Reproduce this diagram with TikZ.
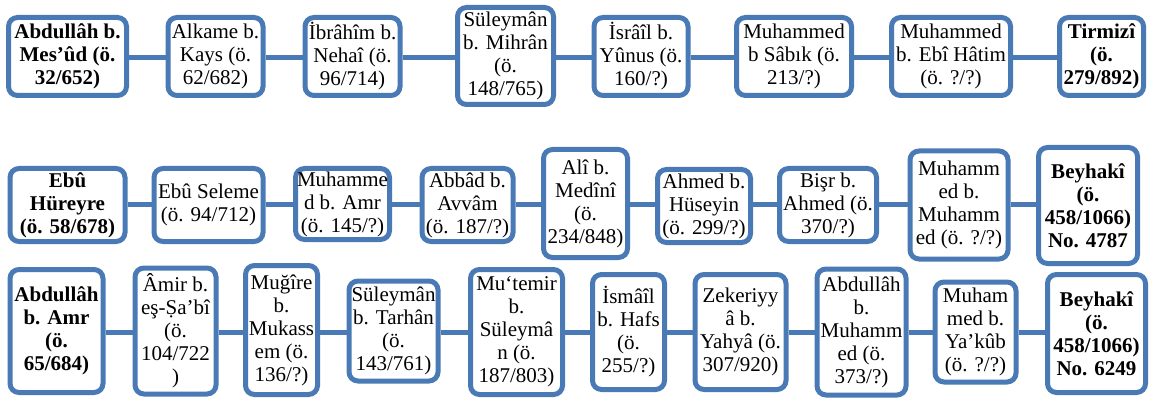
\documentclass[tikz,border=0pt]{standalone}
\usepackage{fontspec}
\setmainfont{Liberation Serif}
\definecolor{bx}{RGB}{74,122,182}
\begin{document}
\begin{tikzpicture}[x=1pt,y=-1pt,
  box/.style={draw=bx,line width=5pt,rounded corners=9pt,fill=white,inner sep=0pt,align=center,
    font=\fontsize{21}{23}\selectfont},
  bbox/.style={box,font=\fontsize{21}{23}\selectfont\bfseries},
  conn/.style={draw=bx,line width=5pt}]
\useasboundingbox (0,0) rectangle (1152,401);
% row 1
\node[bbox,minimum width=118,minimum height=78] (a1) at (67.5,56.5) {Abdullâh b.\\Mes’ûd (ö.\\32/652)};
\node[box,minimum width=95,minimum height=78] (a2) at (215.5,56.5) {Alkame b.\\Kays (ö.\\62/682)};
\node[box,minimum width=95,minimum height=78] (a3) at (352.5,56.5) {İbrâhîm b.\\Nehaî (ö.\\96/714)};
\node[box,minimum width=96,minimum height=97] (a4) at (505.5,56) {Süleymân\\b. Mihrân\\(ö.\\148/765)};
\node[box,minimum width=94,minimum height=78] (a5) at (641,56.5) {İsrâîl b.\\Yûnus (ö.\\160/?)};
\node[box,minimum width=115,minimum height=78] (a6) at (794,56.5) {Muhammed\\b Sâbık (ö.\\213/?)};
\node[box,minimum width=119,minimum height=78] (a7) at (951,56.5) {Muhammed\\b. Ebî Hâtim\\(ö. ?/?)};
\node[bbox,minimum width=84,minimum height=78] (a8) at (1101.5,56.5) {Tirmizî\\(ö.\\279/892)};
% row 2
\node[bbox,minimum width=115,minimum height=73] (b1) at (67.5,205) {Ebû\\Hüreyre\\(ö. 58/678)};
\node[box,minimum width=109,minimum height=73] (b2) at (208.5,205) {Ebû Seleme\\(ö. 94/712)};
\node[box,minimum width=94,minimum height=71] (b3) at (342.5,204) {Muhamme\\d b. Amr\\(ö. 145/?)};
\node[box,minimum width=91,minimum height=73] (b4) at (467.5,205) {Abbâd b.\\Avvâm\\(ö. 187/?)};
\node[box,minimum width=84,minimum height=108] (b5) at (585.5,203.5) {Alî b.\\Medînî\\(ö.\\234/848)};
\node[box,minimum width=93,minimum height=73] (b6) at (704,206) {Ahmed b.\\Hüseyin\\(ö. 299/?)};
\node[box,minimum width=97,minimum height=73] (b7) at (828,205) {Bişr b.\\Ahmed (ö.\\370/?)};
\node[box,minimum width=98,minimum height=108] (b8) at (959,205) {Muhamm\\ed b.\\Muhamm\\ed (ö. ?/?)};
\node[bbox,minimum width=99,minimum height=116] (b9) at (1088,205.5) {Beyhakî\\(ö.\\458/1066)\\No. 4787};
% row 3
\node[bbox,minimum width=93,minimum height=123] (c1) at (56.5,331) {Abdullâh\\b. Amr\\(ö.\\65/684)};
\node[box,minimum width=81,minimum height=126] (c2) at (175.5,331) {Âmir b.\\eş-Ṣa’bî\\(ö.\\104/722\\)};
\node[box,minimum width=72,minimum height=129] (c3) at (281.5,330) {Muğîre\\b.\\Mukass\\em (ö.\\136/?)};
\node[box,minimum width=89,minimum height=100] (c4) at (393.5,331) {Süleymân\\b. Tarhân\\(ö.\\143/761)};
\node[box,minimum width=92,minimum height=125] (c5) at (516.5,332) {Mu‘temir\\b.\\Süleymâ\\n (ö.\\187/803)};
\node[box,minimum width=72,minimum height=115] (c6) at (628.5,332) {İsmâîl\\b. Hafs\\(ö.\\255/?)};
\node[box,minimum width=91,minimum height=115] (c7) at (740.5,332) {Zekeriyy\\â b.\\Yahyâ (ö.\\307/920)};
\node[box,minimum width=89,minimum height=126] (c8) at (861.5,332) {Abdullâh\\b.\\Muhamm\\ed (ö.\\373/?)};
\node[box,minimum width=81,minimum height=100] (c9) at (975.5,332) {Muham\\med b.\\Ya’kûb\\(ö. ?/?)};
\node[bbox,minimum width=98,minimum height=118] (c10) at (1096.5,333.5) {Beyhakî\\(ö.\\458/1066)\\No. 6249};
% connectors
\foreach \p/\q in {a1/a2,a2/a3,a3/a4,a4/a5,a5/a6,a6/a7,a7/a8}
  \draw[conn] (\p.east |- 0,57.5) -- (\q.west |- 0,57.5);
\foreach \p/\q in {b1/b2,b2/b3,b3/b4,b4/b5,b5/b6,b6/b7,b7/b8,b8/b9}
  \draw[conn] (\p.east |- 0,205) -- (\q.west |- 0,205);
\foreach \p/\q in {c1/c2,c2/c3,c3/c4,c4/c5,c5/c6,c6/c7,c7/c8,c8/c9,c9/c10}
  \draw[conn] (\p.east |- 0,332) -- (\q.west |- 0,332);
\end{tikzpicture}
\end{document}
